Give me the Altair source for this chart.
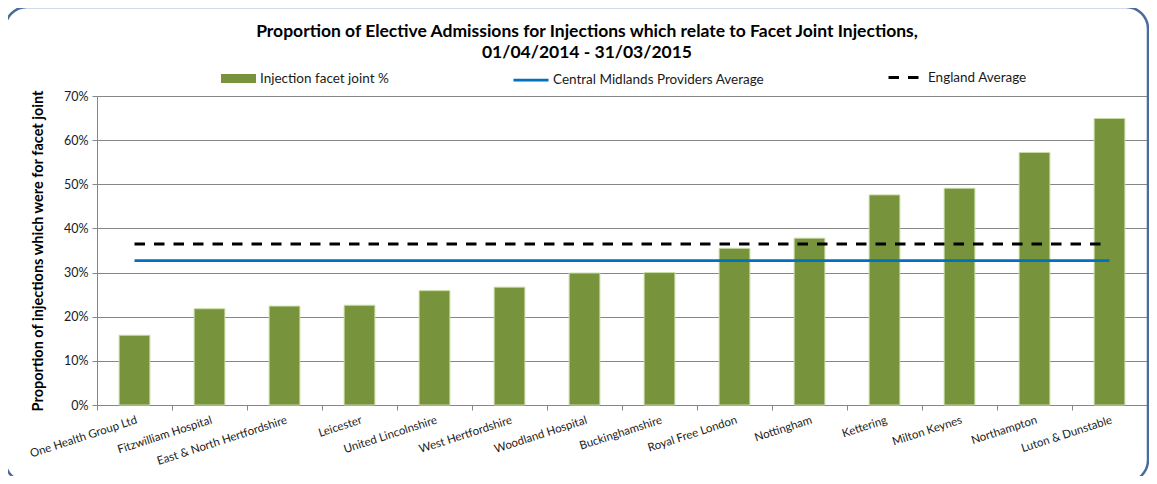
import altair as alt
import pandas as pd

categories = [
    "One Health Group Ltd", "Fitzwilliam Hospital", "East & North Hertfordshire",
    "Leicester", "United Lincolnshire", "West Hertfordshire", "Woodland Hospital",
    "Buckinghamshire", "Royal Free London", "Nottingham", "Kettering",
    "Milton Keynes", "Northampton", "Luton & Dunstable",
]
facet_pct = [15.8, 21.8, 22.4, 22.6, 25.9, 26.7, 29.9, 30.0, 35.5, 37.8, 47.6, 49.1, 57.2, 64.9]
central_avg = 32.7
england_avg = 36.5
y_tick_values = [0, 10, 20, 30, 40, 50, 60, 70]

S_BAR = "Injection facet joint %"
S_CM = "Central Midlands Providers Average"
S_EN = "England Average"

bar_df = pd.DataFrame({"provider": categories, "value": [v / 100 for v in facet_pct], "sb": S_BAR})
cm_df = pd.DataFrame({"provider": categories, "value": [central_avg / 100] * len(categories), "sc": S_CM})
en_df = pd.DataFrame({"provider": categories, "value": [england_avg / 100] * len(categories), "se": S_EN})

FONT = "Lato"
GRAY = "#868686"
LEG_FS = 13.5

x_enc = alt.X(
    "provider:N", sort=categories,
    scale=alt.Scale(paddingInner=0, paddingOuter=0),
    axis=alt.Axis(
        title=None, labelAngle=-18, labelAlign="right", labelBaseline="top",
        labelFontSize=11.5, labelFont=FONT, labelColor="#1a1a1a", labelPadding=4,
        tickBand="extent", tickSize=5, tickColor=GRAY, domainColor=GRAY,
        grid=False, labelOverlap=False, labelLimit=300,
    ),
)
y_enc = alt.Y(
    "value:Q",
    scale=alt.Scale(domain=[0, 0.7], nice=False),
    axis=alt.Axis(
        values=[v / 100 for v in y_tick_values], format=".0%",
        title="Proportion of injections which were for facet joint",
        titleFont=FONT, titleFontSize=14.5, titleFontWeight="bold", titleColor="black",
        titlePadding=18,
        labelFont=FONT, labelFontSize=12.5, labelColor="#1a1a1a", labelPadding=4,
        grid=True, gridColor=GRAY, tickColor=GRAY, domainColor=GRAY, tickSize=5,
    ),
)

bars = alt.Chart(bar_df).mark_bar(
    width=alt.RelativeBandSize(0.41), stroke="#c8dca4", strokeWidth=1
).encode(
    x=x_enc, y=y_enc,
    color=alt.Color("sb:N", scale=alt.Scale(domain=[S_BAR], range=["#77933C"]),
                    legend=alt.Legend(title=None, orient="none", legendX=124, legendY=-35,
                                      symbolType="M-1,-0.26H1V0.26H-1Z", symbolSize=1225,
                                      symbolStrokeWidth=0, labelFont=FONT, labelFontSize=LEG_FS,
                                      labelColor="#1a1a1a", labelOffset=4, labelLimit=400)),
)

cm_line = alt.Chart(cm_df).mark_line(strokeWidth=2.75).encode(
    x=alt.X("provider:N", sort=categories),
    y="value:Q",
    stroke=alt.Stroke("sc:N", scale=alt.Scale(domain=[S_CM], range=["#0070C0"]),
                      legend=alt.Legend(title=None, orient="none", legendX=415, legendY=-35,
                                        symbolType="stroke", symbolSize=1225, symbolStrokeWidth=2.75,
                                        labelFont=FONT, labelFontSize=LEG_FS, labelColor="#1a1a1a",
                                        labelOffset=3, labelLimit=400)),
)

en_line = alt.Chart(en_df).mark_line(strokeWidth=3, color="black").encode(
    x=alt.X("provider:N", sort=categories),
    y="value:Q",
    strokeDash=alt.StrokeDash("se:N", scale=alt.Scale(domain=[S_EN], range=[[10.5, 9]]),
                              legend=alt.Legend(title=None, orient="none", legendX=790, legendY=-35,
                                                symbolType="stroke", symbolSize=900, symbolStrokeWidth=3,
                                                symbolStrokeColor="black",
                                                labelFont=FONT, labelFontSize=LEG_FS, labelColor="#1a1a1a",
                                                labelOffset=8, labelLimit=400)),
)

border = alt.Chart(alt.Data(values=[{}])).mark_rect(
    fillOpacity=0, stroke="#4a6b9b", strokeWidth=2.5, cornerRadius=22
).encode(
    x=alt.value(-92), x2=alt.value(1051), y=alt.value(-89), y2=alt.value(386)
)

chart = alt.layer(border, bars, cm_line, en_line).resolve_scale(
    color="independent", stroke="independent", strokeDash="independent"
).properties(
    width=1050, height=309,
    title=alt.Title(
        ["Proportion of Elective Admissions for Injections which relate to Facet Joint Injections,",
         "01/04/2014 - 31/03/2015"],
        font=FONT, fontSize=17.5, fontWeight="bold", color="black",
        anchor="middle", frame="group", dx=-35, offset=-56, lineHeight=21,
    ),
    autosize=alt.AutoSizeParams(type="none"),
    padding={"left": 89, "top": 88, "right": 2, "bottom": 71},
).configure_view(strokeWidth=0).configure(background="white")

chart.save("out.html", embed_options={"renderer": "svg", "actions": False})
